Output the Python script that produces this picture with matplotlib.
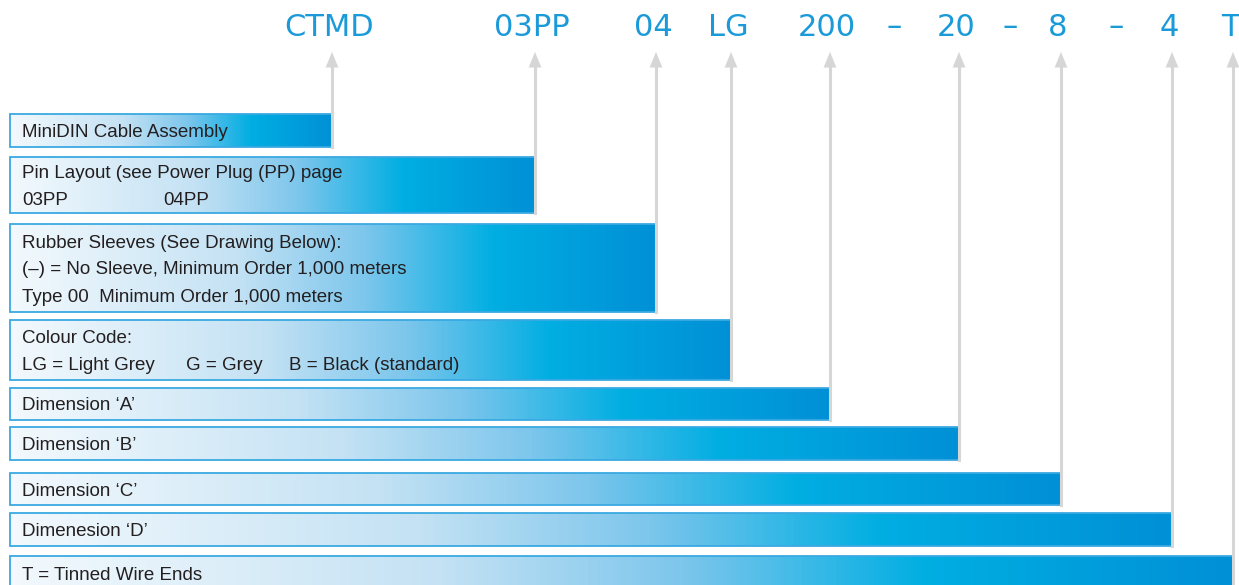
import numpy as np
import matplotlib.pyplot as plt
from matplotlib.colors import LinearSegmentedColormap

# part number segments shown on top
codes = ['CTMD', '03PP', '04', 'LG', '200', '20', '8', '4', 'T']
# which segments are followed by a dash
dash_after = [False, False, False, False, True, True, True, False, False]

# description boxes (one per code), lines of text in each
descriptions = [
    [['MiniDIN Cable Assembly']],
    [['Pin Layout (see Power Plug (PP) page'], ['03PP', '04PP']],
    [['Rubber Sleeves (See Drawing Below):'],
     ['(\u2013) = No Sleeve, Minimum Order 1,000 meters'],
     ['Type 00  Minimum Order 1,000 meters']],
    [['Colour Code:'], ['LG = Light Grey', 'G = Grey', 'B = Black (standard)']],
    [['Dimension \u2018A\u2019']],
    [['Dimension \u2018B\u2019']],
    [['Dimension \u2018C\u2019']],
    [['Dimenesion \u2018D\u2019']],
    [['T = Tinned Wire Ends']],
]

# box geometry in pixels: right edge, top, bottom
box_right = [332, 535, 656, 731, 830, 959, 1061, 1172, 1233]
box_top = [114, 157, 224, 320, 388, 427, 473, 513, 556]
box_bottom = [147, 213, 312, 380, 420, 460, 505, 546, 592]
col_x = [22, 163, 186, 289]

W, H = 1239, 585
fig = plt.figure(figsize=(W / 100, H / 100), dpi=100)
ax = fig.add_axes([0, 0, 1, 1])
ax.set_xlim(0, W)
ax.set_ylim(H, 0)
ax.axis('off')

cmap = LinearSegmentedColormap.from_list(
    'cable', [(0.0, '#f3f9fd'), (0.35, '#c4e2f4'), (0.55, '#7dc6ec'),
              (0.75, '#00aee2'), (1.0, '#0090d6')])
grad = np.linspace(0, 1, 256).reshape(1, -1)

left = 10
blue_text = '#1a9ad8'
grey = '#d6d6d6'

for i, desc in enumerate(descriptions):
    r, t, b = box_right[i], box_top[i], box_bottom[i]
    ax.imshow(grad, cmap=cmap, aspect='auto', extent=(left, r, b, t),
              interpolation='bilinear', zorder=1)
    ax.plot([r, left, left, r], [t, t, b, b], color='#3aa9e2', lw=1.3,
            zorder=2, solid_joinstyle='miter')
    # grey arrow running up from the box's right edge
    ax.plot([r, r], [b, 68], color=grey, lw=2.2, zorder=3)
    ax.annotate('', xy=(r, 52), xytext=(r, 70),
                arrowprops=dict(arrowstyle='-|>,head_length=1.1,head_width=0.45',
                                color=grey, lw=0.1, shrinkA=0, shrinkB=0),
                zorder=3)
    nlines = len(desc)
    lh = 27
    y0 = (t + b) / 2 - (nlines - 1) * lh / 2 + 2
    for j, parts in enumerate(desc):
        for k, s in enumerate(parts):
            if len(parts) == 2:
                x = [col_x[0], col_x[1]][k]
            elif len(parts) == 3:
                x = [col_x[0], col_x[2], col_x[3]][k]
            else:
                x = col_x[0]
            ax.text(x, y0 + j * lh, s, fontsize=13.5, family='Liberation Sans',
                    color='#231f20', va='center', ha='left', zorder=4)

for i, c in enumerate(codes):
    ax.text(box_right[i] - 3, 27, c, fontsize=22, color=blue_text,
            ha='center', va='center', family='DejaVu Sans')
    if dash_after[i]:
        xm = (box_right[i] + box_right[i + 1]) / 2
        ax.text(xm, 27, '\u2013', fontsize=22, color=blue_text,
                ha='center', va='center', family='DejaVu Sans')

fig.savefig('out.png', dpi=100)
